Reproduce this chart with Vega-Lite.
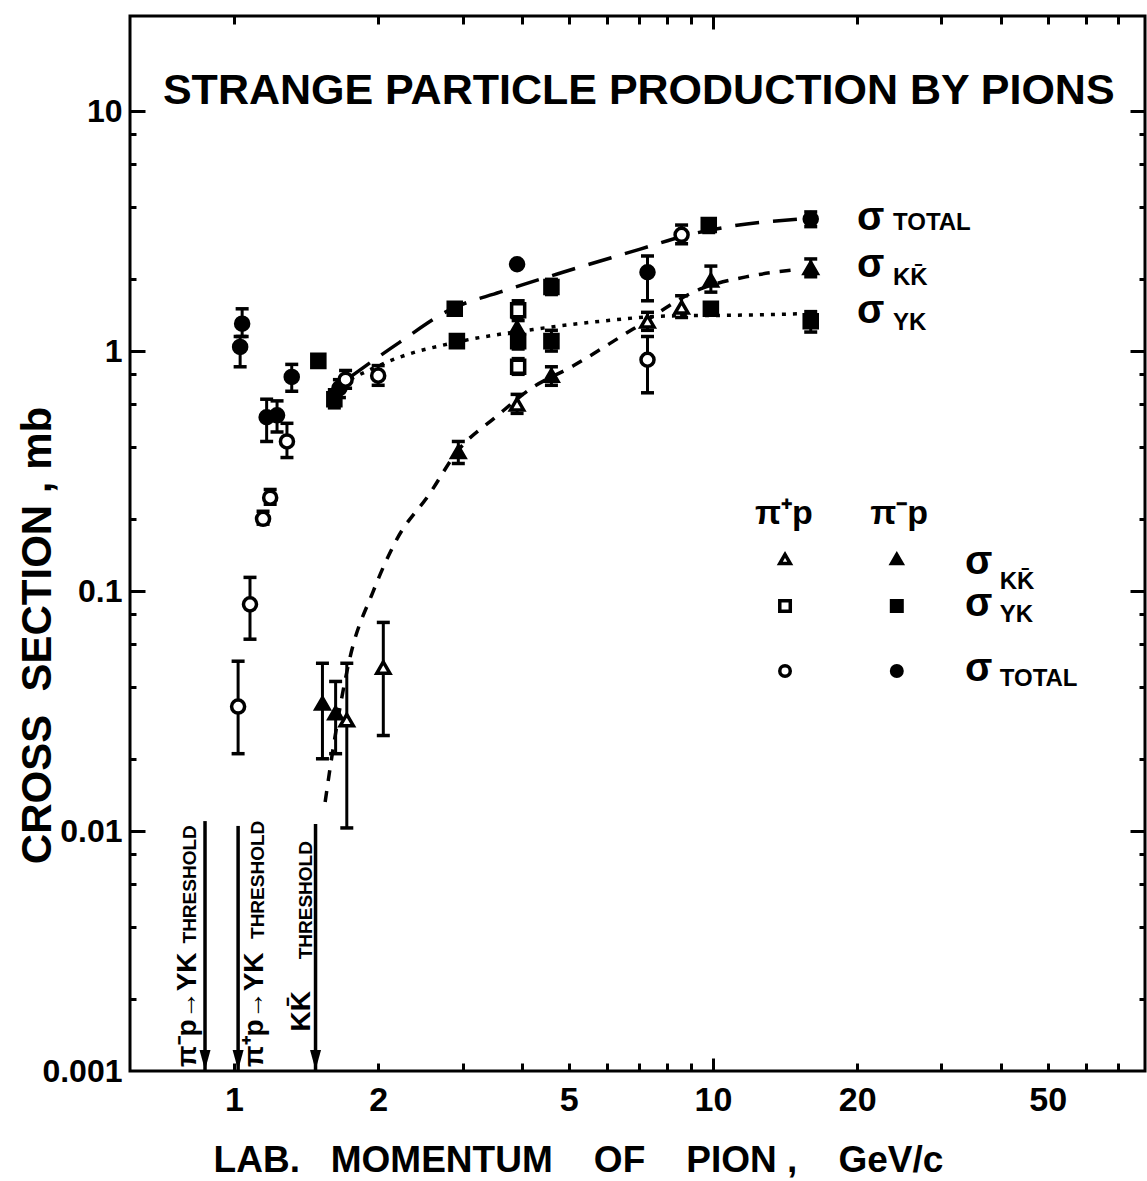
{
  "$schema": "https://vega.github.io/schema/vega-lite/v6.json",
  "width": 1015,
  "height": 1055,
  "autosize": "none",
  "padding": {"left": 130, "top": 16, "right": 2, "bottom": 110},
  "background": "white",
  "config": {
    "view": {"stroke": "black", "strokeWidth": 3},
    "axis": {
      "domain": false, "grid": false, "tickColor": "black", "tickWidth": 3,
      "labelColor": "black", "titleColor": "black",
      "labelFont": "Liberation Sans", "titleFont": "Liberation Sans",
      "labelFontWeight": "bold", "titleFontWeight": "bold"
    },
    "text": {"font": "Liberation Sans", "fontWeight": "bold", "color": "black"}
  },
  "datasets": {
    "pts": [
      {"p": 1.02, "s": 0.033, "lo": 0.021, "hi": 0.051, "r": "+", "k": "TOT"},
      {"p": 1.08, "s": 0.088, "lo": 0.063, "hi": 0.114, "r": "+", "k": "TOT"},
      {"p": 1.15, "s": 0.20, "lo": 0.19, "hi": 0.215, "r": "+", "k": "TOT"},
      {"p": 1.19, "s": 0.245, "lo": 0.23, "hi": 0.265, "r": "+", "k": "TOT"},
      {"p": 1.04, "s": 1.30, "lo": 1.15, "hi": 1.50, "r": "-", "k": "TOT"},
      {"p": 1.03, "s": 1.04, "lo": 0.86, "hi": 1.15, "r": "-", "k": "TOT"},
      {"p": 1.17, "s": 0.53, "lo": 0.42, "hi": 0.63, "r": "-", "k": "TOT"},
      {"p": 1.23, "s": 0.54, "lo": 0.46, "hi": 0.62, "r": "-", "k": "TOT"},
      {"p": 1.29, "s": 0.42, "lo": 0.36, "hi": 0.50, "r": "+", "k": "TOT"},
      {"p": 1.32, "s": 0.78, "lo": 0.68, "hi": 0.88, "r": "-", "k": "TOT"},
      {"p": 1.50, "s": 0.91, "lo": 0.86, "hi": 0.96, "r": "-", "k": "YK"},
      {"p": 1.62, "s": 0.63, "lo": 0.58, "hi": 0.69, "r": "-", "k": "YK"},
      {"p": 1.66, "s": 0.70, "lo": 0.64, "hi": 0.76, "r": "-", "k": "TOT"},
      {"p": 1.71, "s": 0.76, "lo": 0.70, "hi": 0.83, "r": "+", "k": "TOT"},
      {"p": 2.00, "s": 0.79, "lo": 0.72, "hi": 0.87, "r": "+", "k": "TOT"},
      {"p": 1.53, "s": 0.034, "lo": 0.020, "hi": 0.050, "r": "-", "k": "KK"},
      {"p": 1.63, "s": 0.031, "lo": 0.021, "hi": 0.042, "r": "-", "k": "KK"},
      {"p": 1.72, "s": 0.029, "lo": 0.0103, "hi": 0.050, "r": "+", "k": "KK"},
      {"p": 2.05, "s": 0.048, "lo": 0.025, "hi": 0.074, "r": "+", "k": "KK"},
      {"p": 2.89, "s": 1.50, "lo": 1.42, "hi": 1.58, "r": "-", "k": "YK"},
      {"p": 2.92, "s": 1.10, "lo": 1.04, "hi": 1.16, "r": "-", "k": "YK"},
      {"p": 2.94, "s": 0.38, "lo": 0.34, "hi": 0.42, "r": "-", "k": "KK"},
      {"p": 3.90, "s": 2.30, "lo": null, "hi": null, "r": "-", "k": "TOT"},
      {"p": 3.92, "s": 1.48, "lo": 1.34, "hi": 1.62, "r": "+", "k": "YK"},
      {"p": 3.90, "s": 1.25, "lo": 1.13, "hi": 1.38, "r": "-", "k": "KK"},
      {"p": 3.92, "s": 1.10, "lo": 1.02, "hi": 1.18, "r": "-", "k": "YK"},
      {"p": 3.92, "s": 0.86, "lo": 0.80, "hi": 0.93, "r": "+", "k": "YK"},
      {"p": 3.90, "s": 0.60, "lo": 0.55, "hi": 0.66, "r": "+", "k": "KK"},
      {"p": 4.60, "s": 1.85, "lo": 1.72, "hi": 1.99, "r": "-", "k": "YK"},
      {"p": 4.60, "s": 1.10, "lo": 1.00, "hi": 1.22, "r": "-", "k": "YK"},
      {"p": 4.60, "s": 0.79, "lo": 0.72, "hi": 0.86, "r": "-", "k": "KK"},
      {"p": 7.30, "s": 2.13, "lo": 1.62, "hi": 2.49, "r": "-", "k": "TOT"},
      {"p": 7.30, "s": 1.33, "lo": 1.22, "hi": 1.45, "r": "+", "k": "KK"},
      {"p": 7.30, "s": 0.92, "lo": 0.67, "hi": 1.15, "r": "+", "k": "TOT"},
      {"p": 8.60, "s": 3.05, "lo": 2.80, "hi": 3.35, "r": "+", "k": "TOT"},
      {"p": 8.60, "s": 1.52, "lo": 1.38, "hi": 1.70, "r": "+", "k": "KK"},
      {"p": 9.80, "s": 3.35, "lo": 3.12, "hi": 3.55, "r": "-", "k": "YK"},
      {"p": 9.90, "s": 1.97, "lo": 1.76, "hi": 2.26, "r": "-", "k": "KK"},
      {"p": 9.90, "s": 1.50, "lo": 1.42, "hi": 1.58, "r": "-", "k": "YK"},
      {"p": 16.0, "s": 3.55, "lo": 3.30, "hi": 3.80, "r": "-", "k": "TOT"},
      {"p": 16.0, "s": 2.22, "lo": 2.04, "hi": 2.42, "r": "-", "k": "KK"},
      {"p": 16.0, "s": 1.33, "lo": 1.20, "hi": 1.46, "r": "-", "k": "YK"}
    ],
    "curves": [
      {"c": "TOT", "p": 1.75, "s": 0.78},
      {"c": "TOT", "p": 2.22, "s": 1.09},
      {"c": "TOT", "p": 2.85, "s": 1.50},
      {"c": "TOT", "p": 3.59, "s": 1.76},
      {"c": "TOT", "p": 4.86, "s": 2.13},
      {"c": "TOT", "p": 7.05, "s": 2.66},
      {"c": "TOT", "p": 8.66, "s": 3.01},
      {"c": "TOT", "p": 11.0, "s": 3.32},
      {"c": "TOT", "p": 15.2, "s": 3.55},
      {"c": "YK", "p": 1.75, "s": 0.764},
      {"c": "YK", "p": 2.22, "s": 0.944},
      {"c": "YK", "p": 2.92, "s": 1.09},
      {"c": "YK", "p": 4.21, "s": 1.23},
      {"c": "YK", "p": 5.81, "s": 1.33},
      {"c": "YK", "p": 8.0, "s": 1.40},
      {"c": "YK", "p": 11.0, "s": 1.41},
      {"c": "YK", "p": 15.2, "s": 1.43},
      {"c": "KK", "p": 1.55, "s": 0.0132},
      {"c": "KK", "p": 1.59, "s": 0.0187},
      {"c": "KK", "p": 1.75, "s": 0.0537},
      {"c": "KK", "p": 1.95, "s": 0.099},
      {"c": "KK", "p": 2.19, "s": 0.165},
      {"c": "KK", "p": 2.56, "s": 0.254},
      {"c": "KK", "p": 2.92, "s": 0.38},
      {"c": "KK", "p": 3.54, "s": 0.536},
      {"c": "KK", "p": 4.15, "s": 0.694},
      {"c": "KK", "p": 5.10, "s": 0.866},
      {"c": "KK", "p": 6.81, "s": 1.235},
      {"c": "KK", "p": 9.39, "s": 1.81},
      {"c": "KK", "p": 11.9, "s": 2.05},
      {"c": "KK", "p": 15.2, "s": 2.19}
    ],
    "thr": [
      {"p": 0.87, "top": 0.011, "bot": 0.001, "head": 0.00111},
      {"p": 1.02, "top": 0.0105, "bot": 0.001, "head": 0.00111},
      {"p": 1.48, "top": 0.0107, "bot": 0.001, "head": 0.00111}
    ],
    "leg": [
      {"p": 14.14, "s": 0.136, "k": "KK", "r": "+"},
      {"p": 24.2, "s": 0.136, "k": "KK", "r": "-"},
      {"p": 14.14, "s": 0.0866, "k": "YK", "r": "+"},
      {"p": 24.2, "s": 0.0866, "k": "YK", "r": "-"},
      {"p": 14.14, "s": 0.0464, "k": "TOT", "r": "+"},
      {"p": 24.2, "s": 0.0464, "k": "TOT", "r": "-"}
    ],
    "title": [
      {"p": 7.0, "s": 12.1, "t": "STRANGE PARTICLE PRODUCTION BY PIONS"}
    ],
    "sigma": [
      {"p": 19.98, "s": 3.19}, {"p": 19.98, "s": 2.03}, {"p": 19.98, "s": 1.31},
      {"p": 33.6, "s": 0.1176}, {"p": 33.6, "s": 0.0786}, {"p": 33.6, "s": 0.0422}
    ],
    "subs": [
      {"p": 23.76, "s": 3.19, "t": "TOTAL"},
      {"p": 23.76, "s": 1.88, "t": "KK̄"},
      {"p": 23.76, "s": 1.22, "t": "YK"},
      {"p": 39.7, "s": 0.102, "t": "KK̄"},
      {"p": 39.7, "s": 0.0744, "t": "YK"},
      {"p": 39.7, "s": 0.0403, "t": "TOTAL"}
    ],
    "heads": [
      {"p": 12.24, "s": 0.19, "t": "π⁺p"},
      {"p": 21.3, "s": 0.19, "t": "π⁻p"}
    ],
    "thrBig": [
      {"p": 0.802, "s": 0.00104, "t": "π⁻p→YK"},
      {"p": 1.106, "s": 0.00104, "t": "π⁺p→YK"},
      {"p": 1.387, "s": 0.00146, "t": "KK̄"}
    ],
    "thrSmall": [
      {"p": 0.809, "s": 0.0034, "t": "THRESHOLD"},
      {"p": 1.122, "s": 0.00355, "t": "THRESHOLD"},
      {"p": 1.413, "s": 0.00292, "t": "THRESHOLD"}
    ]
  },
  "layer": [
    {
      "data": {"name": "thr"},
      "mark": {"type": "point", "opacity": 0},
      "encoding": {
        "x": {"field": "p", "type": "quantitative", "scale": {"type": "log", "domain": [0.6066, 79.8], "nice": false},
          "axis": {"orient": "bottom", "values": [1, 2, 5, 10, 20, 50], "ticks": false, "format": "~g",
            "labelFontSize": 34, "labelPadding": 12, "labelFlush": false, "labelOverlap": false,
            "title": "LAB.\u00a0\u00a0 MOMENTUM\u00a0\u00a0\u00a0 OF\u00a0\u00a0\u00a0 PION ,\u00a0\u00a0\u00a0 GeV/c", "titleFontSize": 37,
            "titleX": 448, "titleY": 100, "titleAlign": "center", "titleBaseline": "alphabetic"}},
        "y": {"field": "top", "type": "quantitative", "scale": {"type": "log", "domain": [0.001, 24.9], "nice": false},
          "axis": {"orient": "left", "values": [0.001, 0.01, 0.1, 1, 10], "ticks": false, "format": "~g",
            "labelFontSize": 32, "labelPadding": 8, "labelFlush": false, "labelOverlap": false,
            "title": "CROSS\u00a0 SECTION , mb", "titleFontSize": 42,
            "titleX": -93, "titleY": 619, "titleAngle": 270, "titleAlign": "center", "titleBaseline": "middle"}}
      }
    },
    {
      "data": {"name": "thr"},
      "mark": {"type": "point", "opacity": 0},
      "encoding": {
        "x": {"field": "p", "type": "quantitative", "scale": {"type": "log", "domain": [0.6066, 79.8], "nice": false},
          "axis": {"orient": "bottom", "values": [1, 2, 3, 4, 5, 6, 7, 8, 9, 20, 30, 40, 50, 60, 70], "labels": false, "tickSize": -8, "title": null}},
        "y": {"field": "top", "type": "quantitative", "scale": {"type": "log", "domain": [0.001, 24.9], "nice": false},
          "axis": {"orient": "left", "values": [0.002, 0.004, 0.006, 0.008, 0.02, 0.04, 0.06, 0.08, 0.2, 0.4, 0.6, 0.8, 2, 4, 6, 8], "labels": false, "tickSize": -6, "title": null}}
      }
    },
    {
      "data": {"name": "thr"},
      "mark": {"type": "point", "opacity": 0},
      "encoding": {
        "x": {"field": "p", "type": "quantitative", "scale": {"type": "log", "domain": [0.6066, 79.8], "nice": false},
          "axis": {"orient": "bottom", "values": [10], "labels": false, "tickSize": -13, "title": null}},
        "y": {"field": "top", "type": "quantitative", "scale": {"type": "log", "domain": [0.001, 24.9], "nice": false},
          "axis": {"orient": "left", "values": [0.01, 0.1, 1, 10], "labels": false, "tickSize": -15, "title": null}}
      }
    },
    {
      "data": {"name": "thr"},
      "mark": {"type": "point", "opacity": 0},
      "encoding": {
        "x": {"field": "p", "type": "quantitative", "scale": {"type": "log", "domain": [0.6066, 79.8], "nice": false},
          "axis": {"orient": "top", "values": [1, 2, 3, 4, 5, 6, 7, 8, 9, 20, 30, 40, 50, 60, 70], "labels": false, "tickSize": -8, "title": null}},
        "y": {"field": "top", "type": "quantitative", "scale": {"type": "log", "domain": [0.001, 24.9], "nice": false},
          "axis": {"orient": "right", "values": [0.002, 0.004, 0.006, 0.008, 0.02, 0.04, 0.06, 0.08, 0.2, 0.4, 0.6, 0.8, 2, 4, 6, 8], "labels": false, "tickSize": -6, "title": null}}
      }
    },
    {
      "data": {"name": "thr"},
      "mark": {"type": "point", "opacity": 0},
      "encoding": {
        "x": {"field": "p", "type": "quantitative", "scale": {"type": "log", "domain": [0.6066, 79.8], "nice": false},
          "axis": {"orient": "top", "values": [10], "labels": false, "tickSize": -13, "title": null}},
        "y": {"field": "top", "type": "quantitative", "scale": {"type": "log", "domain": [0.001, 24.9], "nice": false},
          "axis": {"orient": "right", "values": [0.01, 0.1, 1, 10], "labels": false, "tickSize": -15, "title": null}}
      }
    },
    {
      "data": {"name": "curves"},
      "mark": {"type": "line", "strokeWidth": 3.5, "color": "black", "interpolate": "monotone"},
      "encoding": {
        "x": {"field": "p", "type": "quantitative", "scale": {"type": "log", "domain": [0.6066, 79.8], "nice": false}, "axis": null},
        "y": {"field": "s", "type": "quantitative", "scale": {"type": "log", "domain": [0.001, 24.9], "nice": false}, "axis": null},
        "detail": {"field": "c", "type": "nominal"},
        "strokeDash": {"field": "c", "type": "nominal", "scale": {"domain": ["TOT", "KK", "YK"], "range": [[24, 14], [11, 10], [4, 7]]}, "legend": null}
      }
    },
    {
      "data": {"name": "thr"},
      "mark": {"type": "rule", "strokeWidth": 3.5, "color": "black"},
      "encoding": {
        "x": {"field": "p", "type": "quantitative", "scale": {"type": "log", "domain": [0.6066, 79.8], "nice": false}, "axis": null},
        "y": {"field": "top", "type": "quantitative", "scale": {"type": "log", "domain": [0.001, 24.9], "nice": false}, "axis": null},
        "y2": {"field": "bot"}
      }
    },
    {
      "data": {"name": "thr"},
      "mark": {"type": "point", "shape": "M-0.55,-1L0.55,-1L0,1Z", "size": 400, "filled": true, "color": "black", "opacity": 1},
      "encoding": {
        "x": {"field": "p", "type": "quantitative", "scale": {"type": "log", "domain": [0.6066, 79.8], "nice": false}, "axis": null},
        "y": {"field": "head", "type": "quantitative", "scale": {"type": "log", "domain": [0.001, 24.9], "nice": false}, "axis": null}
      }
    },
    {
      "data": {"name": "pts"},
      "transform": [{"filter": "isValid(datum.lo)"}],
      "mark": {"type": "rule", "strokeWidth": 3, "color": "black"},
      "encoding": {
        "x": {"field": "p", "type": "quantitative", "scale": {"type": "log", "domain": [0.6066, 79.8], "nice": false}, "axis": null},
        "y": {"field": "lo", "type": "quantitative", "scale": {"type": "log", "domain": [0.001, 24.9], "nice": false}, "axis": null},
        "y2": {"field": "hi"}
      }
    },
    {
      "data": {"name": "pts"},
      "transform": [{"filter": "isValid(datum.lo)"}, {"fold": ["lo", "hi"], "as": ["end", "v"]}],
      "mark": {"type": "tick", "orient": "horizontal", "size": 13, "thickness": 3.5, "color": "black", "opacity": 1},
      "encoding": {
        "x": {"field": "p", "type": "quantitative", "scale": {"type": "log", "domain": [0.6066, 79.8], "nice": false}, "axis": null},
        "y": {"field": "v", "type": "quantitative", "scale": {"type": "log", "domain": [0.001, 24.9], "nice": false}, "axis": null}
      }
    },
    {
      "data": {"name": "pts"},
      "mark": {"type": "point", "filled": true, "stroke": "black", "strokeWidth": 3.5, "size": 170, "opacity": 1},
      "encoding": {
        "x": {"field": "p", "type": "quantitative", "scale": {"type": "log", "domain": [0.6066, 79.8], "nice": false}, "axis": null},
        "y": {"field": "s", "type": "quantitative", "scale": {"type": "log", "domain": [0.001, 24.9], "nice": false}, "axis": null},
        "shape": {"field": "k", "type": "nominal", "scale": {"domain": ["KK", "YK", "TOT"], "range": ["triangle-up", "square", "circle"]}, "legend": null},
        "fill": {"field": "r", "type": "nominal", "scale": {"domain": ["+", "-"], "range": ["white", "black"]}, "legend": null}
      }
    },
    {
      "data": {"name": "leg"},
      "mark": {"type": "point", "filled": true, "stroke": "black", "strokeWidth": 3.5, "size": 110, "opacity": 1},
      "encoding": {
        "x": {"field": "p", "type": "quantitative", "scale": {"type": "log", "domain": [0.6066, 79.8], "nice": false}, "axis": null},
        "y": {"field": "s", "type": "quantitative", "scale": {"type": "log", "domain": [0.001, 24.9], "nice": false}, "axis": null},
        "shape": {"field": "k", "type": "nominal", "scale": {"domain": ["KK", "YK", "TOT"], "range": ["triangle-up", "square", "circle"]}, "legend": null},
        "fill": {"field": "r", "type": "nominal", "scale": {"domain": ["+", "-"], "range": ["white", "black"]}, "legend": null}
      }
    },
    {
      "data": {"name": "title"},
      "mark": {"type": "text", "fontSize": 43, "align": "center", "baseline": "middle"},
      "encoding": {
        "x": {"field": "p", "type": "quantitative", "scale": {"type": "log", "domain": [0.6066, 79.8], "nice": false}, "axis": null},
        "y": {"field": "s", "type": "quantitative", "scale": {"type": "log", "domain": [0.001, 24.9], "nice": false}, "axis": null},
        "text": {"field": "t"}
      }
    },
    {
      "data": {"name": "sigma"},
      "mark": {"type": "text", "fontSize": 40, "align": "left", "baseline": "alphabetic", "text": "σ"},
      "encoding": {
        "x": {"field": "p", "type": "quantitative", "scale": {"type": "log", "domain": [0.6066, 79.8], "nice": false}, "axis": null},
        "y": {"field": "s", "type": "quantitative", "scale": {"type": "log", "domain": [0.001, 24.9], "nice": false}, "axis": null}
      }
    },
    {
      "data": {"name": "subs"},
      "mark": {"type": "text", "fontSize": 24, "align": "left", "baseline": "alphabetic"},
      "encoding": {
        "x": {"field": "p", "type": "quantitative", "scale": {"type": "log", "domain": [0.6066, 79.8], "nice": false}, "axis": null},
        "y": {"field": "s", "type": "quantitative", "scale": {"type": "log", "domain": [0.001, 24.9], "nice": false}, "axis": null},
        "text": {"field": "t"}
      }
    },
    {
      "data": {"name": "heads"},
      "mark": {"type": "text", "fontSize": 34, "align": "left", "baseline": "alphabetic"},
      "encoding": {
        "x": {"field": "p", "type": "quantitative", "scale": {"type": "log", "domain": [0.6066, 79.8], "nice": false}, "axis": null},
        "y": {"field": "s", "type": "quantitative", "scale": {"type": "log", "domain": [0.001, 24.9], "nice": false}, "axis": null},
        "text": {"field": "t"}
      }
    },
    {
      "data": {"name": "thrBig"},
      "mark": {"type": "text", "fontSize": 28, "align": "left", "baseline": "middle", "angle": 270},
      "encoding": {
        "x": {"field": "p", "type": "quantitative", "scale": {"type": "log", "domain": [0.6066, 79.8], "nice": false}, "axis": null},
        "y": {"field": "s", "type": "quantitative", "scale": {"type": "log", "domain": [0.001, 24.9], "nice": false}, "axis": null},
        "text": {"field": "t"}
      }
    },
    {
      "data": {"name": "thrSmall"},
      "mark": {"type": "text", "fontSize": 19, "align": "left", "baseline": "middle", "angle": 270},
      "encoding": {
        "x": {"field": "p", "type": "quantitative", "scale": {"type": "log", "domain": [0.6066, 79.8], "nice": false}, "axis": null},
        "y": {"field": "s", "type": "quantitative", "scale": {"type": "log", "domain": [0.001, 24.9], "nice": false}, "axis": null},
        "text": {"field": "t"}
      }
    }
  ],
  "resolve": {"axis": {"x": "independent", "y": "independent"}}
}
